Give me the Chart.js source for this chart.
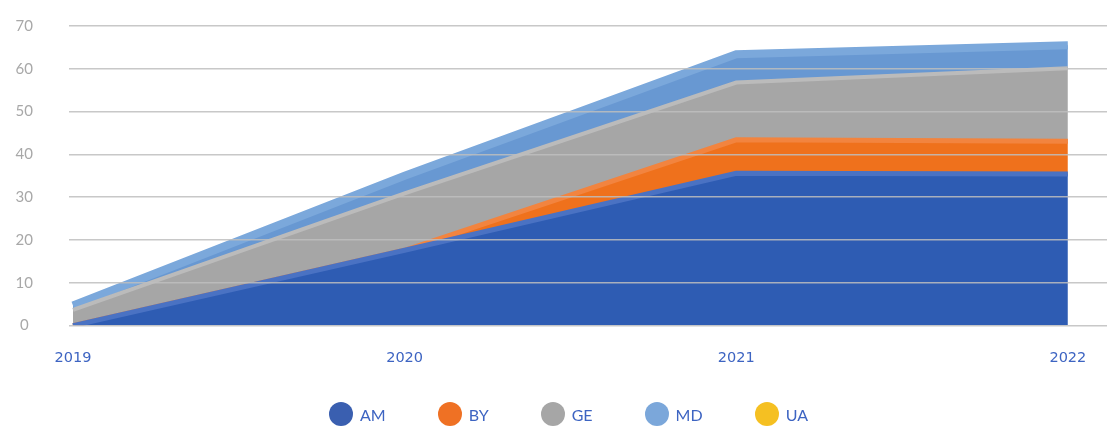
<!DOCTYPE html>
<html>
<head>
<meta charset="utf-8">
<title>Stacked area</title>
<script src="https://cdn.jsdelivr.net/npm/chart.js@4/dist/chart.umd.min.js"></script>
<style>
  html, body { margin: 0; padding: 0; background: #fff; }
  #wrap { position: relative; width: 1107px; height: 426px; overflow: hidden; }
  #legend {
    position: absolute; left: 329px; top: 402px;
    display: flex; align-items: center; gap: 52px;
    font: 16px Lato, sans-serif; color: #3d64c2;
  }
  .item { display: flex; align-items: center; gap: 7px; }
  .dot { width: 24px; height: 24px; border-radius: 50%; }
</style>
</head>
<body>
<div id="wrap">
  <canvas id="chart" width="1107" height="426"></canvas>
  <div id="legend"></div>
</div>
<script>
// -------------------
// Data
// -------------------
const years = [2019, 2020, 2021, 2022];
const seriesNames = ['AM', 'BY', 'GE', 'MD', 'UA'];
const amValues = [0, 17.6, 35.6, 35.4];
const byValues = [0, 0, 7.8, 7.7];
const geValues = [3.7, 13.3, 13.4, 17.0];
const mdValues = [1.0, 4.1, 6.6, 5.4];
const uaValues = [0, 0, 0, 0];
const yTicks = [0, 10, 20, 30, 40, 50, 60, 70];

// fill colour, lighter edge colour, edge width
// (BY edge = AM edge so the AM edge hides it where BY is empty)
const colors = {
  AM: ['#2e5cb3', '#4a72c3', 5],
  BY: ['#ef711c', '#f2843f', 5],
  GE: ['#a6a6a6', '#bbbbbb', 4],
  MD: ['#6898d2', '#7ba8db', 8],
  UA: ['#f5c024', '#f5c024', 0]
};
const legendColors = { AM: '#3a5fb0', BY: '#ef7124', GE: '#a6a6a6', MD: '#7ba7da', UA: '#f5c022' };

const valuesByName = { AM: amValues, BY: byValues, GE: geValues, MD: mdValues, UA: uaValues };

const datasets = seriesNames.map((name, i) => ({
  label: name,
  data: years.map((yr, j) => ({ x: yr, y: valuesByName[name][j] })),
  backgroundColor: colors[name][0],
  borderColor: colors[name][1],
  borderWidth: colors[name][2],
  fill: i === 0 ? 'origin' : '-1',
  pointRadius: 0,
  tension: 0
}));

// -------------------
// Chart
// -------------------
new Chart(document.getElementById('chart'), {
  type: 'line',
  data: { datasets: datasets },
  options: {
    responsive: false,
    animation: false,
    layout: { padding: { left: 0, right: 0, top: 26, bottom: 43 } },
    plugins: { legend: { display: false }, tooltip: { enabled: false } },
    scales: {
      x: {
        type: 'linear',
        min: 2018.988,
        max: 2022.118,
        grid: { display: false },
        border: { display: false },
        afterBuildTicks: (scale) => { scale.ticks = years.map(v => ({ value: v })); },
        afterFit: (scale) => { scale.paddingLeft = 0; scale.paddingRight = 0; },
        ticks: {
          padding: 16,
          color: '#3d64c2',
          font: { family: 'DejaVu Sans', size: 14.5 },
          callback: (v) => String(v)
        }
      },
      y: {
        stacked: true,
        min: 0,
        max: 70,
        grid: { color: 'rgba(190,190,190,0.85)', lineWidth: 1.5, drawTicks: false, z: 1 },
        border: { display: false },
        afterBuildTicks: (scale) => { scale.ticks = yTicks.map(v => ({ value: v })); },
        afterFit: (scale) => { scale.width = 69; scale.paddingTop = 0; scale.paddingBottom = 0; },
        ticks: {
          padding: 36,
          crossAlign: 'center',
          color: '#a8a8a8',
          font: { family: 'Lato', size: 15 }
        }
      }
    }
  }
});

// HTML legend
const legendEl = document.getElementById('legend');
seriesNames.forEach(name => {
  const item = document.createElement('div');
  item.className = 'item';
  item.innerHTML = '<span class="dot" style="background:' + legendColors[name] + '"></span><span>' + name + '</span>';
  legendEl.appendChild(item);
});
</script>
</body>
</html>
